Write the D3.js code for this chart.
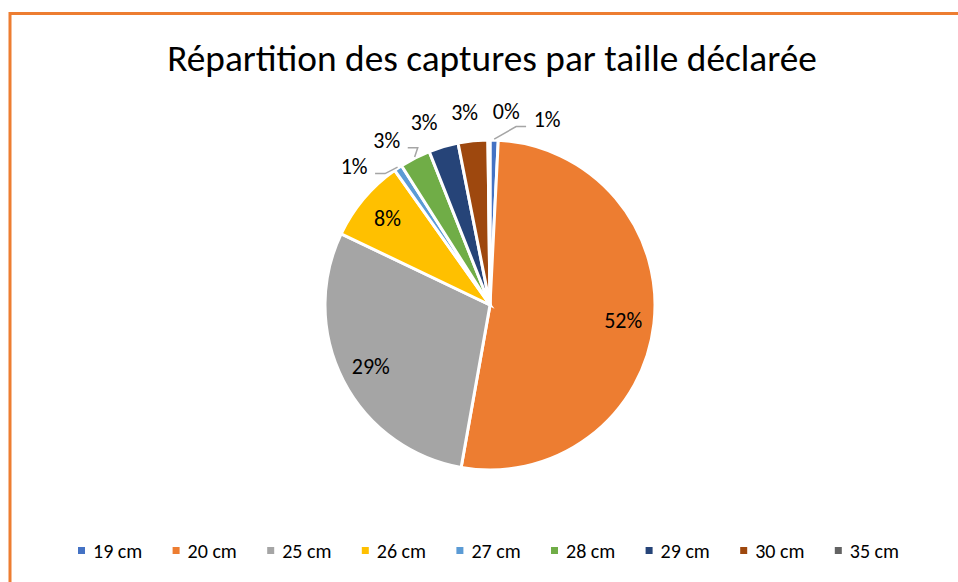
<!DOCTYPE html>
<html>
<head>
<meta charset="utf-8">
<script src="https://cdn.jsdelivr.net/npm/d3@7"></script>
<style>
  body { margin: 0; background: #fff; }
  svg { display: block; font-family: Carlito, Calibri, Lato, sans-serif; }
</style>
</head>
<body>
<div class="canvas"></div>
<script>
const categories = ['19 cm', '20 cm', '25 cm', '26 cm', '27 cm', '28 cm', '29 cm', '30 cm', '35 cm']
const shares = [0.8, 52.0, 29.3, 8.1, 0.8, 3.0, 2.9, 2.9, 0.2]
const colors = ['#4472C4', '#ED7D31', '#A5A5A5', '#FFC000', '#5B9BD5', '#70AD47', '#264478', '#9E480E', '#636363']
const title = 'Répartition des captures par taille déclarée'

const data = categories.map((name, i) => ({ name, value: shares[i] }))

const dims = { width: 958, height: 582, radius: 165 }
const center = { x: 490, y: 305 }

const svg = d3
  .select('.canvas')
  .append('svg')
  .attr('width', dims.width)
  .attr('height', dims.height)

// orange frame, cut by the right and bottom edges
svg
  .append('rect')
  .attr('x', 10)
  .attr('y', 13.5)
  .attr('width', 1000)
  .attr('height', 1000)
  .attr('fill', 'none')
  .attr('stroke', '#ED7D31')
  .attr('stroke-width', 3)

const titleText = svg
  .append('text')
  .attr('x', 492)
  .attr('y', 71)
  .attr('text-anchor', 'middle')
  .attr('font-size', 31)
  .attr('fill', '#000')
  .text(title)
// stretch the font so the title spans about the same width as Calibri did
const titleLen = titleText.node().getComputedTextLength()
titleText.attr('font-size', (31 * 650) / titleLen)

const colorScale = d3.scaleOrdinal().domain(categories).range(colors)

const pie = d3
  .pie()
  .sort(null)
  .value((d) => d.value)

const arcPath = d3.arc().innerRadius(0).outerRadius(dims.radius)
const labelArc = d3.arc().innerRadius(134).outerRadius(134)

const graph = svg
  .append('g')
  .attr('transform', `translate(${center.x}, ${center.y})`)

const arcs = pie(data)
const total = d3.sum(shares)
const pct = (d) => Math.round((d.value / total) * 100) + '%'

graph
  .selectAll('path')
  .data(arcs)
  .enter()
  .append('path')
  .attr('d', arcPath)
  .attr('fill', (d) => colorScale(d.data.name))
  .attr('stroke', '#fff')
  .attr('stroke-width', 3)

// big slices get their label inside
graph
  .selectAll('text.inside')
  .data(arcs.filter((d) => d.value >= 5))
  .enter()
  .append('text')
  .attr('class', 'inside')
  .attr('transform', (d) => `translate(${labelArc.centroid(d)})`)
  .attr('text-anchor', 'middle')
  .attr('dy', '0.35em')
  .attr('font-size', 22)
  .attr('fill', '#000')
  .text(pct)

// small slices: labels outside, spread apart so they don't collide
const midAngle = (d) => {
  let a = (d.startAngle + d.endAngle) / 2
  if (a < Math.PI / 2) a += 2 * Math.PI // unwrap around 12 o'clock
  return a
}
const outside = arcs
  .filter((d) => d.value < 5)
  .map((d) => ({ d, natural: midAngle(d), angle: midAngle(d) }))
  .sort((a, b) => a.natural - b.natural)

const minSep = 0.215
for (let k = 0; k < 200; k++) {
  for (let i = 1; i < outside.length; i++) {
    const gap = outside[i].angle - outside[i - 1].angle
    if (gap < minSep) {
      const push = (minSep - gap) / 2
      outside[i].angle += push
      outside[i - 1].angle -= push
    }
  }
}

const outerR = 194
outside.forEach((o) => {
  o.x = outerR * Math.sin(o.angle)
  o.y = -outerR * Math.cos(o.angle)
})

graph
  .selectAll('text.outside')
  .data(outside)
  .enter()
  .append('text')
  .attr('class', 'outside')
  .attr('x', (o) => o.x)
  .attr('y', (o) => o.y)
  .attr('text-anchor', 'middle')
  .attr('dy', '0.35em')
  .attr('font-size', 22)
  .attr('fill', '#000')
  .text((o) => pct(o.d))

// leader lines only for labels pushed well away from their slice
const leaderData = outside.filter(
  (o) => Math.abs(o.angle - o.natural) > 0.08 && o.d.value >= 0.5
)
graph
  .selectAll('polyline')
  .data(leaderData)
  .enter()
  .append('polyline')
  .attr('fill', 'none')
  .attr('stroke', '#A5A5A5')
  .attr('stroke-width', 1.5)
  .attr('points', (o) => {
    const r = dims.radius + 1
    const sx = r * Math.sin(o.natural)
    const sy = -r * Math.cos(o.natural)
    const side = sx > o.x ? 1 : -1
    const ly = o.y + 7
    const lx = o.x + side * 21
    return [
      [sx, sy],
      [lx + side * 10, ly],
      [lx, ly],
    ].join(' ')
  })

// legend
const legendScale = d3
  .scaleBand()
  .domain(categories)
  .range([78, 78 + 94.6 * categories.length])

const legendGroup = svg.append('g').attr('transform', 'translate(0, 551)')
const items = legendGroup
  .selectAll('g')
  .data(categories)
  .enter()
  .append('g')
  .attr('transform', (d) => `translate(${legendScale(d)}, 0)`)

items
  .append('rect')
  .attr('x', 0)
  .attr('y', -4)
  .attr('width', 7)
  .attr('height', 7)
  .attr('fill', (d) => colorScale(d))

items
  .append('text')
  .attr('x', 15)
  .attr('dy', '0.35em')
  .attr('font-size', 20)
  .attr('fill', '#000')
  .text((d) => d)
</script>
</body>
</html>
